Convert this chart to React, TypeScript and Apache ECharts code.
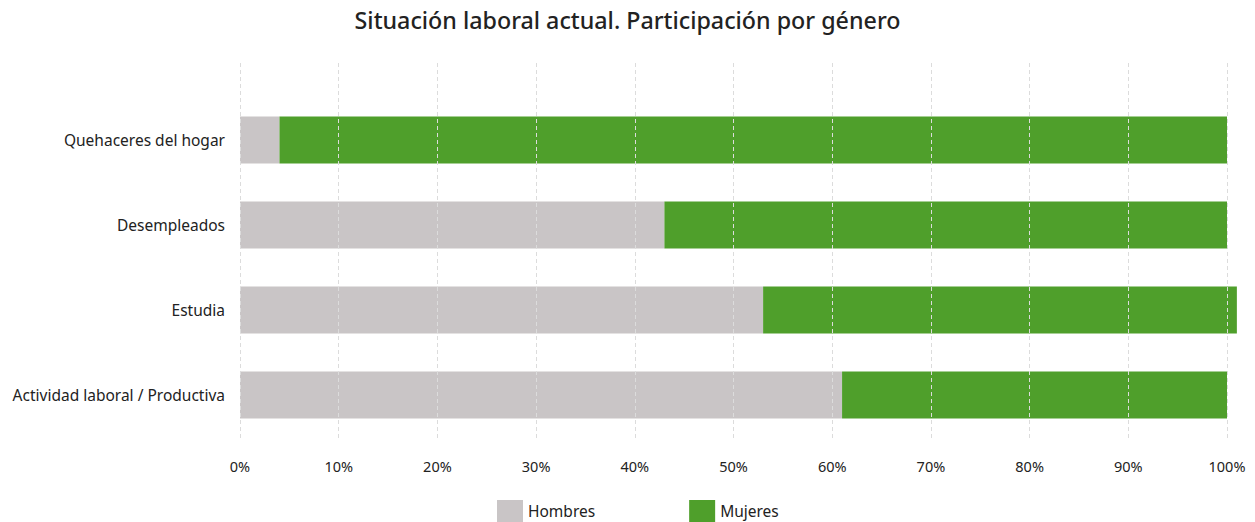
import React, { useEffect, useRef } from "react";
import * as echarts from "echarts";

const categories = [
  "Actividad laboral / Productiva",
  "Estudia",
  "Desempleados",
  "Quehaceres del hogar",
];
const hombres = [61, 53, 43, 4];
const mujeres = [39, 48, 57, 96];
const seriesNames = ["Hombres", "Mujeres"];
const colors = ["#c9c5c6", "#4f9f2b"];
const titleText = "Situación laboral actual. Participación por género";

export default function App() {
  const ref = useRef<HTMLDivElement>(null);
  useEffect(() => {
    document.body.style.margin = "0";
    const chart = echarts.init(ref.current!, undefined, { renderer: "svg" });
    const font = "Noto Sans";
    chart.setOption({
      animation: false,
      textStyle: { fontFamily: font },
      title: {
        text: titleText,
        left: "center",
        top: 3,
        textStyle: { fontFamily: font, fontSize: 23.25, fontWeight: 500, color: "#222" },
      },
      legend: {
        data: seriesNames,
        left: 492,
        top: 495,
        itemWidth: 26,
        itemHeight: 22,
        itemGap: 94,
        icon: "rect",
        textStyle: { fontFamily: font, fontSize: 15.5, color: "#222" },
      },
      grid: [
        { left: 240, right: 28, top: 63, height: 378 },
        { left: 240, right: 28, top: 97.5, height: 340 },
      ],
      xAxis: [
        {
          gridIndex: 0,
          type: "value",
          min: 0,
          max: 100,
          interval: 10,
          z: 10,
          axisLine: { show: false },
          axisTick: { show: false },
          splitLine: { show: true, lineStyle: { color: "#dcdcdc", type: [4, 3], width: 1 } },
          axisLabel: {
            formatter: "{value}%",
            fontFamily: font,
            fontSize: 14.5,
            color: "#222",
            margin: 17,
          },
        },
        {
          gridIndex: 1,
          type: "value",
          min: 0,
          max: 100,
          interval: 10,
          show: false,
        },
      ],
      yAxis: [
        {
          gridIndex: 0,
          type: "category",
          data: categories,
          show: false,
        },
        {
          gridIndex: 1,
          type: "category",
          data: categories,
          axisLine: { show: false },
          axisTick: { show: false },
          axisLabel: { fontFamily: font, fontSize: 15.5, color: "#222", margin: 15 },
        },
      ],
      series: [
        {
          name: seriesNames[0],
          type: "bar",
          stack: "total",
          xAxisIndex: 1,
          yAxisIndex: 1,
          data: hombres,
          barWidth: 47,
          clip: false,
          itemStyle: { color: colors[0] },
        },
        {
          name: seriesNames[1],
          type: "bar",
          stack: "total",
          xAxisIndex: 1,
          yAxisIndex: 1,
          data: mujeres,
          barWidth: 47,
          clip: false,
          itemStyle: { color: colors[1] },
        },
      ],
    });
    return () => chart.dispose();
  }, []);
  return <div ref={ref} style={{ width: 1255, height: 522 }} />;
}
